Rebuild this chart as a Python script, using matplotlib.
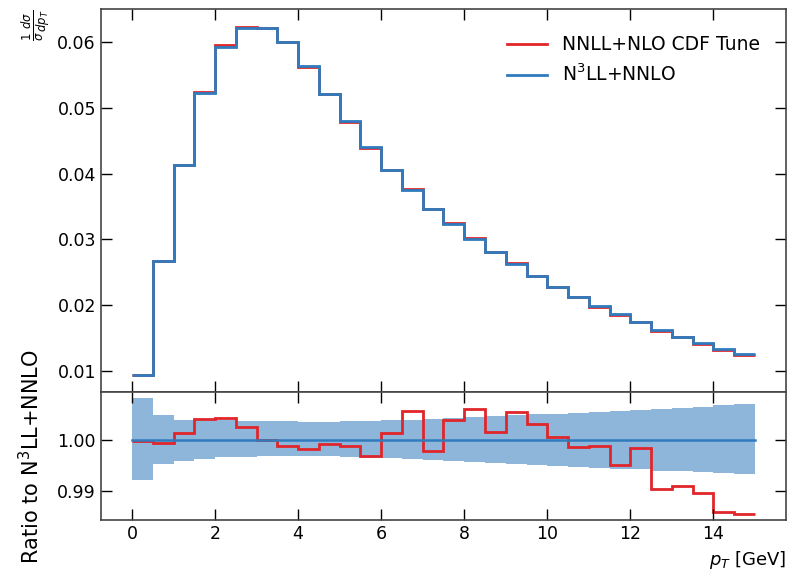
import numpy as np
import matplotlib
matplotlib.use('Agg')
import matplotlib.pyplot as plt

# binning in pT [GeV]
bin_edges = np.arange(0, 15.01, 0.5)

# N3LL+NNLO normalised spectrum (1/sigma dsigma/dpT)
n3ll_nnlo = [0.00934, 0.0267, 0.0413, 0.0523, 0.0593, 0.06225, 0.0622, 0.0601,
             0.0564, 0.0522, 0.0480, 0.0441, 0.0405, 0.0375, 0.0347, 0.0324,
             0.0301, 0.0281, 0.0262, 0.0244, 0.0227, 0.0212, 0.0198, 0.0186,
             0.0174, 0.0162, 0.0152, 0.0142, 0.0133, 0.0126]

# ratio NNLL+NLO CDF Tune / N3LL+NNLO
ratio_cdf = [0.9998, 0.9993, 1.0012, 1.0040, 1.0041, 1.0024, 0.9999, 0.9987,
             0.9982, 0.9991, 0.9988, 0.9968, 1.0013, 1.0056, 0.9977, 1.0038,
             1.0060, 1.0015, 1.0054, 1.0031, 1.0004, 0.9986, 0.9987, 0.9950,
             0.9984, 0.9905, 0.9910, 0.9896, 0.9860, 0.9855]

# uncertainty band of N3LL+NNLO (relative)
band_up = [1.0080, 1.0048, 1.0038, 1.0038, 1.0037, 1.0036, 1.0035, 1.0035,
           1.0034, 1.0034, 1.0035, 1.0036, 1.0037, 1.0038, 1.0040, 1.0041,
           1.0043, 1.0045, 1.0047, 1.0049, 1.0050, 1.0052, 1.0054, 1.0056,
           1.0058, 1.0060, 1.0062, 1.0064, 1.0066, 1.0069]
band_dn = [0.9922, 0.9952, 0.9959, 0.9963, 0.9967, 0.9967, 0.9968, 0.9969,
           0.9969, 0.9969, 0.9967, 0.9965, 0.9964, 0.9962, 0.9960, 0.9958,
           0.9956, 0.9954, 0.9952, 0.9950, 0.9948, 0.9946, 0.9945, 0.9943,
           0.9942, 0.9940, 0.9939, 0.9937, 0.9935, 0.9933]

n3ll_nnlo = np.array(n3ll_nnlo)
ratio_cdf = np.array(ratio_cdf)
nnll_cdf = n3ll_nnlo * ratio_cdf

c_red = '#e0262b'
c_blue = '#2f7bbd'

fig, (ax, rax) = plt.subplots(2, 1, figsize=(7.94, 5.78), dpi=100, sharex=True,
                              gridspec_kw={'height_ratios': [3, 1]})
fig.subplots_adjust(left=0.127, right=0.99, top=0.984, bottom=0.10, hspace=0)

ax.stairs(nnll_cdf, bin_edges, baseline=None, color=c_red, lw=2,
          label='NNLL+NLO CDF Tune')
ax.stairs(n3ll_nnlo, bin_edges, baseline=None, color=c_blue, lw=2,
          label=r'N$^3$LL+NNLO')
ax.legend(loc='upper right', frameon=False, fontsize=13.5, handlelength=2.1,
          borderaxespad=1.0)
ax.set_ylabel(r'$\frac{1}{\sigma}\frac{d\sigma}{dp_T}$', loc='top', fontsize=12)

rax.stairs(band_up, bin_edges, baseline=band_dn, fill=True, color=c_blue,
           alpha=0.55, lw=0)
rax.plot([bin_edges[0], bin_edges[-1]], [1, 1], color=c_blue, lw=1.8)
rax.stairs(ratio_cdf, bin_edges, baseline=None, color=c_red, lw=2)
rax.set_ylabel(r'Ratio to N$^3$LL+NNLO', fontsize=15, labelpad=10)
rax.set_xlabel(r'$p_T$ [GeV]', loc='right', fontsize=13)
rax.set_xticks([0, 2, 4, 6, 8, 10, 12, 14])
rax.set_yticks([0.99, 1.00])
rax.yaxis.set_major_formatter(matplotlib.ticker.FormatStrFormatter('%.2f'))

for a in (ax, rax):
    a.tick_params(direction='in', top=True, right=True, length=8, width=1,
                  labelsize=12.5)
    for s in a.spines.values():
        s.set_color('#444444')
        s.set_linewidth(1.2)

fig.savefig('out.png')
